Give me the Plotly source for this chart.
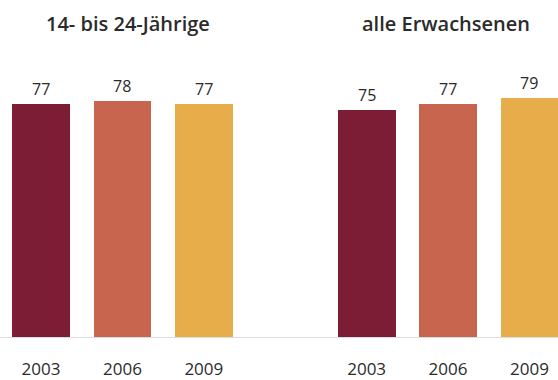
import plotly.graph_objects as go

groups = ["14- bis 24-Jährige", "alle Erwachsenen"]
years = ["2003", "2006", "2009"]
values_youth = [77, 78, 77]
values_adults = [75, 77, 79]
colors = ["#7d1c35", "#c8654f", "#e8ad4b"]

group_values = [values_youth, values_adults]
group_offset = [0, 4]

fig = go.Figure()
tickvals, ticktext = [], []
annotations = []
for gi, (gname, vals) in enumerate(zip(groups, group_values)):
    xs = [group_offset[gi] + i for i in range(len(years))]
    fig.add_trace(go.Bar(
        x=xs, y=vals, marker=dict(color=colors, line=dict(width=0)),
        width=0.71, showlegend=False, hoverinfo="skip",
    ))
    tickvals += xs
    ticktext += years
    for x, v in zip(xs, vals):
        annotations.append(dict(x=x, y=v, text=str(v), showarrow=False,
                                yanchor="bottom", yshift=2,
                                font=dict(size=16, color="#2a2a2a")))
    annotations.append(dict(x=group_offset[gi] + 1 + (0.07 if gi == 0 else -0.02),
                            y=1, yref="paper", yshift=-23, text=gname,
                            showarrow=False, yanchor="middle",
                            font=dict(size=20, color="#2b2b2b", weight=600)))

fig.update_layout(
    width=558, height=380,
    margin=dict(l=0, r=0, t=0, b=40),
    paper_bgcolor="white", plot_bgcolor="white",
    font=dict(family="Open Sans, sans-serif", color="#333333"),
    annotations=annotations,
    bargap=0,
)
fig.update_xaxes(range=[-0.504, 6.351], tickvals=tickvals, ticktext=ticktext,
                 showgrid=False, zeroline=False, showline=True,
                 linecolor="#dcdcdc", linewidth=1,
                 ticks="", ticklabelstandoff=17,
                 tickfont=dict(size=17, color="#2a2a2a"))
fig.update_yaxes(range=[0, 111.5], visible=False, showgrid=False)

fig.write_html("out.html")
